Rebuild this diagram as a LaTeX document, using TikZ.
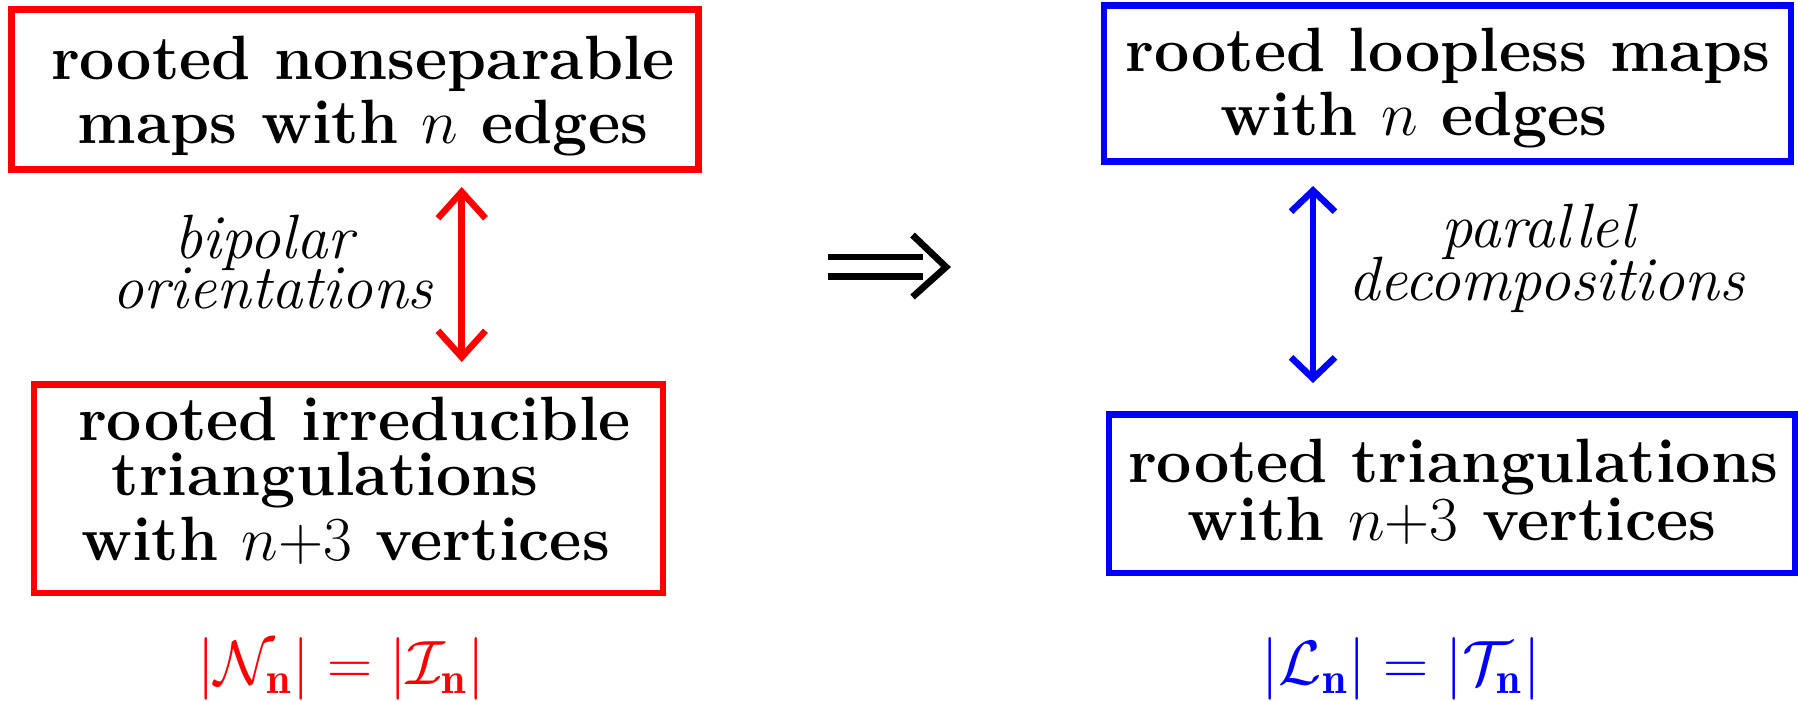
\RequirePackage{fix-cm}
\documentclass[tikz,border=0pt]{standalone}
\usepackage{fontspec}
\usetikzlibrary{arrows.meta}
\newcommand{\figsize}{\fontsize{17.8}{20}\selectfont}
\begin{document}
\begin{tikzpicture}[x=0.01cm,y=-0.01cm,
  box/.style={draw, line width=1.85pt, inner sep=0pt, outer sep=0pt},
  txt/.style={anchor=base, inner sep=0pt, font=\figsize\bfseries},
  lab/.style={anchor=base, inner sep=0pt, text height=0.45cm, text depth=0.02cm, font=\figsize\itshape},
  frm/.style={anchor=base, inner sep=0pt, font=\figsize},
  redarr/.style={red, line width=1.85pt, {Straight Barb[length=7.5pt,width=13.5pt]}-{Straight Barb[length=7.5pt,width=13.5pt]}},
  bluearr/.style={blue, line width=1.85pt, {Straight Barb[length=6pt,width=12.5pt]}-{Straight Barb[length=6pt,width=12.5pt]}},
  implies/.style={line width=1.9pt, line join=miter}
]
\useasboundingbox (0,0) rectangle (1798,700);

% boxes
\node[box, red, minimum width=6.866cm, minimum height=1.596cm] (rb1) at (355,89.5) {};
\node[box, red, minimum width=6.284cm, minimum height=2.083cm] (rb2) at (348.6,488.65) {};
\node[box, blue, minimum width=6.87cm, minimum height=1.558cm] (bb1) at (1447.5,83.6) {};
\node[box, blue, minimum width=6.86cm, minimum height=1.585cm] (bb2) at (1452,493.75) {};

% texts red box 1
\node[txt] (r1a) at (363,79) {rooted nonseparable};
\node[txt] (r1b) at (363,143) {maps with $n$ edges};
% texts red box 2
\node[txt] (r2a) at (354.5,440) {rooted irreducible};
\node[txt] (r2b) at (325,495) {triangulations};
\node[txt] (r2c) at (345.5,560) {with $n{+}3$ vertices};
% texts blue box 1
\node[txt] (b1a) at (1448,71) {rooted loopless maps};
\node[txt] (b1b) at (1414,135) {with $n$ edges};
% texts blue box 2
\node[txt] (b2a) at (1453,482) {rooted triangulations};
\node[txt] (b2b) at (1452,540) {with $n{+}3$ vertices};

% labels
\node[lab] (l1a) at (264,258) {bipolar};
\node[lab] (l1b) at (272.5,308) {orientations};
\node[lab] (l2a) at (1538,247) {parallel};
\node[lab] (l2b) at (1546,300) {decompositions};

% formulas
\node[frm, red] (f1) at (341,684) {$|\mathcal{N}_{\mathbf{n}}| = |\mathcal{I}_{\mathbf{n}}|$};
\node[frm, blue] (f2) at (1401,684) {$|\mathcal{L}_{\mathbf{n}}| = |\mathcal{T}_{\mathbf{n}}|$};

% vertical double arrows
\coordinate (ra1) at (461.7,187);
\coordinate (ra2) at (461.7,362);
\draw[redarr] (ra1) -- (ra2);
\coordinate (ba1) at (1313,186);
\coordinate (ba2) at (1313,383);
\draw[bluearr] (ba1) -- (ba2);

% implies arrow
\coordinate (i1s) at (828,257);
\coordinate (i1e) at (923,257);
\coordinate (i2s) at (828,276.5);
\coordinate (i2e) at (923,276.5);
\coordinate (ct) at (912.5,235);
\coordinate (cm) at (946,267);
\coordinate (cb) at (912.5,297);
\draw[implies] (i1s) -- (i1e);
\draw[implies] (i2s) -- (i2e);
\draw[implies] (ct) -- (cm) -- (cb);
\end{tikzpicture}
\end{document}
